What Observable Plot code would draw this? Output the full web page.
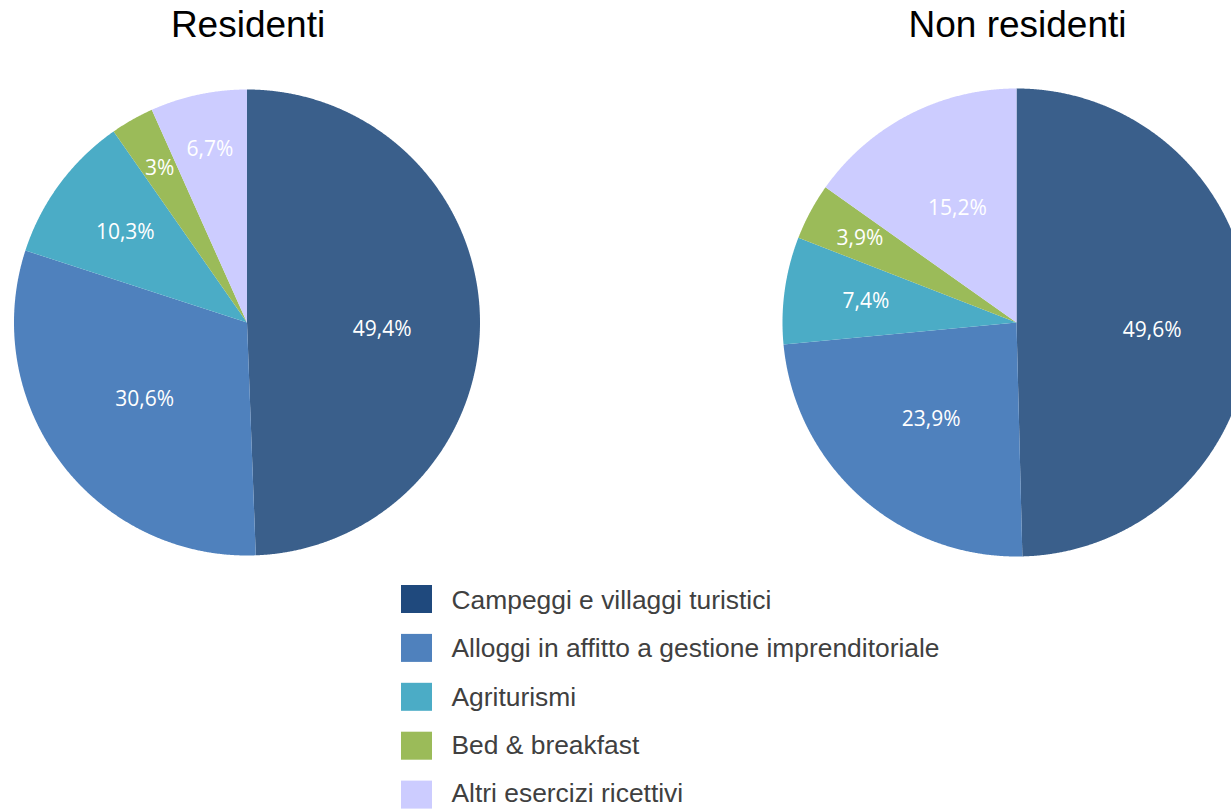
<!DOCTYPE html>
<html>
<head>
<meta charset="utf-8">
<script src="https://cdn.jsdelivr.net/npm/d3@7"></script>
<script src="https://cdn.jsdelivr.net/npm/@observablehq/plot@0.6"></script>
<style>
  html, body { margin: 0; padding: 0; background: #ffffff; }
  #chart svg { display: block; }
</style>
</head>
<body>
<div id="chart"></div>
<script>
// ---- data ----
const categories = [
  "Campeggi e villaggi turistici",
  "Alloggi in affitto a gestione imprenditoriale",
  "Agriturismi",
  "Bed & breakfast",
  "Altri esercizi ricettivi"
];
const sliceColors = ["#3A5F8B", "#4F81BD", "#4BACC6", "#9BBB59", "#CCCCFF"];
const legendColors = ["#1F497D", "#4F81BD", "#4BACC6", "#9BBB59", "#CCCCFF"];
const pieTitles = ["Residenti", "Non residenti"];
const residenti = [49.4, 30.6, 10.3, 3, 6.7];
const nonResidenti = [49.6, 23.9, 7.4, 3.9, 15.2];

// ---- layout ----
const W = 1231, H = 809;
const pies = [
  {title: pieTitles[0], values: residenti, cx: 246.5, cy: 322, r: 233},
  {title: pieTitles[1], values: nonResidenti, cx: 1016, cy: 322, r: 234}
];

const slicePts = [];
const labels = [];
pies.forEach((p, pi) => {
  const arcs = d3.pie().sort(null).value(d => d)(p.values);
  arcs.forEach((a, i) => {
    const key = pi + "-" + i;
    const n = Math.max(2, Math.ceil((a.endAngle - a.startAngle) / 0.004));
    slicePts.push({x: p.cx, y: p.cy, key, color: sliceColors[i]});
    for (let k = 0; k <= n; k++) {
      const ang = a.startAngle + (a.endAngle - a.startAngle) * k / n;
      slicePts.push({x: p.cx + p.r * Math.sin(ang), y: p.cy - p.r * Math.cos(ang), key, color: sliceColors[i]});
    }
    slicePts.push({x: p.cx, y: p.cy, key, color: sliceColors[i]});
    const v = p.values[i];
    const frac = v < 7 ? 0.76 : v < 11 ? 0.65 : v < 40 ? 0.55 : 0.58;
    const mid = (a.startAngle + a.endAngle) / 2;
    labels.push({
      x: p.cx + frac * p.r * Math.sin(mid),
      y: p.cy - frac * p.r * Math.cos(mid) + (v >= 40 ? 9 : 0),
      text: String(v).replace(".", ",") + "%"
    });
  });
});

const titles = pies.map(p => ({x: p.cx + 1, y: 25, text: p.title}));
const legendRows = categories.map((c, i) => ({
  text: c, color: legendColors[i], y0: 585 + i * 48.9, y1: 613 + i * 48.9, ym: 600 + i * 48.3
}));

const chart = Plot.plot({
  width: W,
  height: H,
  margin: 0,
  x: {domain: [0, W], range: [0, W], axis: null},
  y: {domain: [0, H], range: [0, H], axis: null},
  color: {type: "identity"},
  style: {background: "#ffffff"},
  marks: [
    Plot.line(slicePts, {x: "x", y: "y", z: "key", fill: "color", stroke: "none", curve: "linear"}),
    Plot.text(labels, {x: "x", y: "y", text: "text", fill: "#ffffff", fontSize: 21,
      fontFamily: "'Open Sans', sans-serif", lineAnchor: "middle", textAnchor: "middle"}),
    Plot.text(titles, {x: "x", y: "y", text: "text", fill: "#000000", fontSize: 37,
      fontFamily: "'Liberation Sans', Arial, sans-serif", lineAnchor: "middle", textAnchor: "middle"}),
    Plot.rect(legendRows, {x1: () => 401, x2: () => 432, y1: "y0", y2: "y1", fill: "color"}),
    Plot.text(legendRows, {x: () => 451, y: "ym", text: "text", fill: "#404040", fontSize: 26.4,
      fontFamily: "'Liberation Sans', Arial, sans-serif", lineAnchor: "middle", textAnchor: "start"})
  ]
});
document.getElementById("chart").appendChild(chart);
</script>
</body>
</html>
